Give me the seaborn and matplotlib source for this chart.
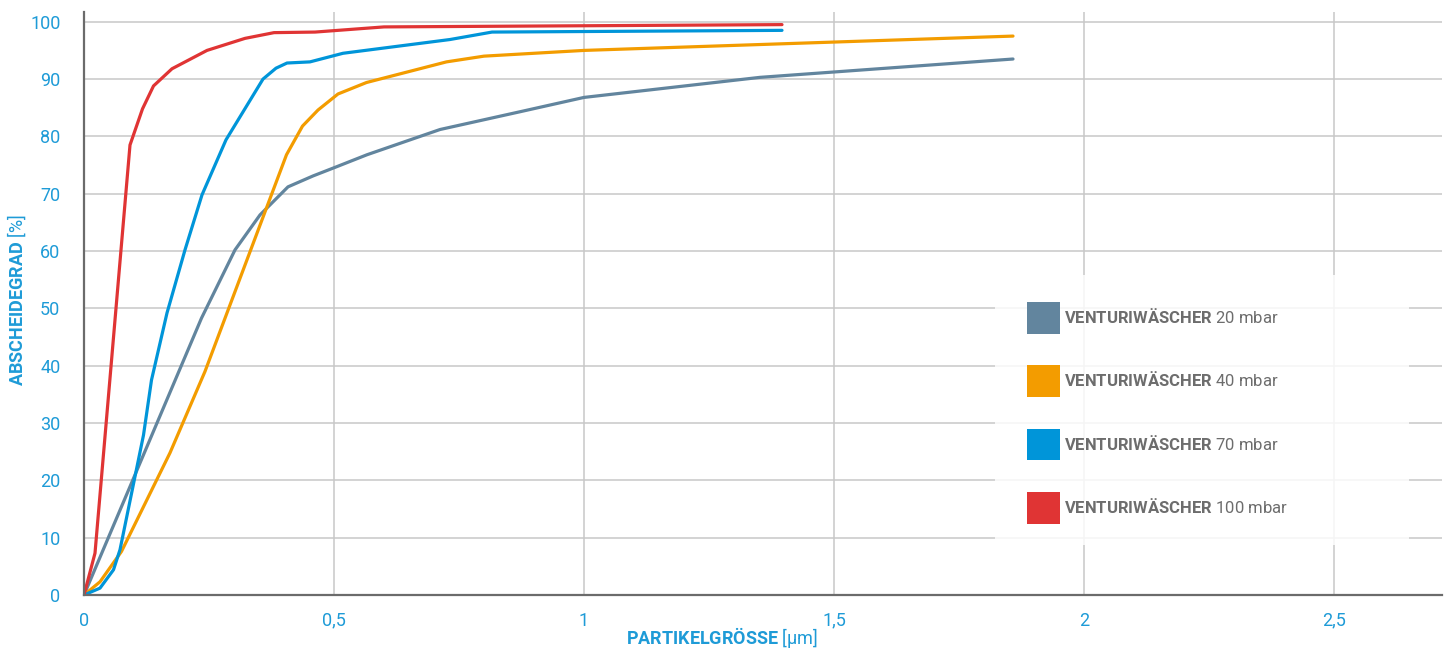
import matplotlib
matplotlib.use('Agg')
import numpy as np
import pandas as pd
import matplotlib.pyplot as plt
import seaborn as sns
from matplotlib.patches import Patch, Rectangle

# Abscheidegrad [%] over Partikelgroesse [um]
x_20 = [0, 0.235, 0.302, 0.352, 0.408, 0.458, 0.505, 0.566, 0.712, 0.872, 1.0, 1.352, 1.858]
y_20 = [0, 48.3, 60.2, 66.3, 71.2, 73.1, 74.7, 76.8, 81.2, 84.3, 86.8, 90.3, 93.5]

x_40 = [0, 0.032, 0.075, 0.172, 0.242, 0.405, 0.437, 0.468, 0.508, 0.565, 0.725, 0.80, 1.0, 1.858]
y_40 = [0, 2.3, 7.6, 24.8, 39.0, 76.8, 81.8, 84.6, 87.4, 89.4, 93.0, 94.0, 95.0, 97.5]

x_70 = [0, 0.032, 0.059, 0.072, 0.119, 0.135, 0.166, 0.202, 0.236, 0.284, 0.358, 0.384,
        0.406, 0.452, 0.518, 0.732, 0.816, 1.396]
y_70 = [0, 1.2, 4.4, 7.9, 27.9, 37.5, 49.2, 60.2, 69.8, 79.4, 90.0, 91.9,
        92.8, 93.0, 94.5, 96.9, 98.2, 98.5]

x_100 = [0, 0.022, 0.092, 0.117, 0.139, 0.176, 0.246, 0.322, 0.38, 0.462, 0.60, 1.396]
y_100 = [0, 7.3, 78.5, 84.8, 88.8, 91.8, 95.0, 97.1, 98.1, 98.2, 99.1, 99.5]

series = ["20 mbar", "40 mbar", "70 mbar", "100 mbar"]
colors = ["#62859e", "#f39c00", "#0095d9", "#e03434"]

x_ticks = [0, 0.5, 1, 1.5, 2, 2.5]
x_ticklabels = ["0", "0,5", "1", "1,5", "2", "2,5"]
y_ticks = [0, 10, 20, 30, 40, 50, 60, 70, 80, 90, 100]

frames = []
for name, xs, ys in zip(series, [x_20, x_40, x_70, x_100], [y_20, y_40, y_70, y_100]):
    frames.append(pd.DataFrame({"x": xs, "y": ys, "serie": name}))
df = pd.concat(frames, ignore_index=True)

sns.set_theme(style="whitegrid")
plt.rcParams['font.family'] = ['Roboto', 'DejaVu Sans']
plt.rcParams['mathtext.fontset'] = 'custom'
plt.rcParams['mathtext.rm'] = 'Roboto'
plt.rcParams['mathtext.bf'] = 'Roboto:bold'

tick_blue = "#1e9bd7"
spine_grey = "#6b6b6b"
text_grey = "#6d6d6d"

fig = plt.figure(figsize=(14.48, 6.52), dpi=100)
ax = fig.add_axes([0.05801, 0.08742, 0.93785, 0.89417])

sns.lineplot(data=df, x="x", y="y", hue="serie", palette=colors, hue_order=series,
             estimator=None, sort=False, linewidth=2.3, legend=False, ax=ax, zorder=3)

ax.set_xlim(0, 2.716)
ax.set_ylim(0, 101.7)
ax.set_xticks(x_ticks)
ax.set_xticklabels(x_ticklabels)
ax.set_yticks(y_ticks)

ax.grid(True, color="#c8c8c8", linewidth=1.1)
for s in ["top", "right"]:
    ax.spines[s].set_visible(False)
for s in ["left", "bottom"]:
    ax.spines[s].set_color(spine_grey)
    ax.spines[s].set_linewidth(1.6)
    ax.spines[s].set_zorder(4)

ax.tick_params(axis="both", length=0, labelsize=13, labelcolor=tick_blue)
ax.tick_params(axis="y", pad=17)
ax.tick_params(axis="x", pad=12)
# only the origin carries a short tick mark
for t in (ax.xaxis.get_major_ticks()[0], ax.yaxis.get_major_ticks()[0]):
    t.tick1line.set_markersize(7)
    t.tick1line.set_markeredgewidth(1.6)
    t.tick1line.set_color(spine_grey)

ax.set_xlabel(r"$\mathbf{PARTIKELGRÖSSE}$ [µm]", fontsize=13, color=tick_blue)
ax.xaxis.set_label_coords(0.47, -0.052)
ax.set_ylabel(r"$\mathbf{ABSCHEIDEGRAD}$ [%]", fontsize=13, color=tick_blue)
ax.yaxis.set_label_coords(-0.041, 0.505)

# faded background behind the legend
ax.add_patch(Rectangle((0.671, 0.0858), 0.305, 0.463, transform=ax.transAxes,
                       facecolor="white", edgecolor="none", alpha=0.82, zorder=2))

handles = [Patch(facecolor=c, edgecolor="none") for c in colors]
labels = [r"$\mathbf{VENTURIWÄSCHER}$ " + s for s in series]
leg = ax.legend(handles, labels, loc="upper left", bbox_to_anchor=(0.6944, 0.5026),
                frameon=False, fontsize=12, handlelength=2.0, handleheight=2.55,
                handletextpad=0.2, labelspacing=1.9, borderpad=0, borderaxespad=0)
for t in leg.get_texts():
    t.set_color(text_grey)
leg.set_zorder(5)

plt.savefig("out.png", dpi=100)
plt.close()
